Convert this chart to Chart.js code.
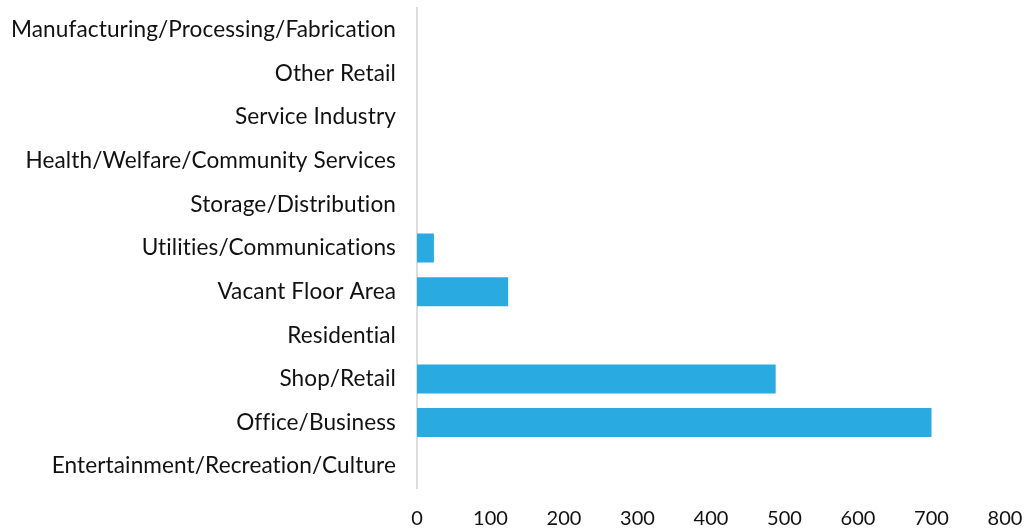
<!DOCTYPE html>
<html>
<head>
<meta charset="utf-8">
<script src="https://cdn.jsdelivr.net/npm/chart.js@4/dist/chart.umd.min.js"></script>
<style>
  html, body { margin: 0; padding: 0; background: #fff; }
  #wrap { width: 1030px; height: 531px; position: relative; }
</style>
</head>
<body>
<div id="wrap"><canvas id="c"></canvas></div>
<script>
// Floor area by land use category
const categories = [
  "Manufacturing/Processing/Fabrication",
  "Other Retail",
  "Service Industry",
  "Health/Welfare/Community Services",
  "Storage/Distribution",
  "Utilities/Communications",
  "Vacant Floor Area",
  "Residential",
  "Shop/Retail",
  "Office/Business",
  "Entertainment/Recreation/Culture"
];
const floorArea = [0, 0, 0, 0, 0, 23, 124, 0, 488, 700, 0];
const axisMin = 0;
const axisMax = 800;
const axisStep = 100;

const categoryFont = { family: "Lato, 'Open Sans', sans-serif", size: 22.6 };
const valueFont = { family: "Lato, 'Open Sans', sans-serif", size: 20 };

// Keep glyphs separate (no "ti"/"fi" ligatures) in canvas text
const noLigatures = {
  id: 'noLigatures',
  beforeDraw(chart) {
    chart.ctx.letterSpacing = '0.1px';
  }
};

new Chart(document.getElementById('c'), {
  type: 'bar',
  data: {
    labels: categories,
    datasets: [{
      data: floorArea,
      backgroundColor: '#29abe2',
      borderWidth: 0,
      categoryPercentage: 1,
      barPercentage: 0.665
    }]
  },
  options: {
    indexAxis: 'y',
    responsive: true,
    maintainAspectRatio: false,
    animation: false,
    layout: { padding: { top: 8, right: 25, left: 0, bottom: 0 } },
    plugins: { legend: { display: false }, tooltip: { enabled: false } },
    scales: {
      x: {
        min: axisMin,
        max: axisMax,
        ticks: { stepSize: axisStep, color: '#111', font: valueFont, padding: 11 },
        grid: { display: false },
        border: { display: false },
        afterFit: (s) => { s.height = 43; s.paddingLeft = 0; s.paddingRight = 0; }
      },
      y: {
        ticks: { color: '#111', font: categoryFont, padding: 21, autoSkip: false },
        grid: { display: true, drawOnChartArea: false, drawTicks: false },
        border: { display: true, color: '#dedede', width: 2 },
        afterFit: (s) => { s.width = 417; s.paddingTop = 0; s.paddingBottom = 0; }
      }
    }
  },
  plugins: [noLigatures]
});
</script>
</body>
</html>
